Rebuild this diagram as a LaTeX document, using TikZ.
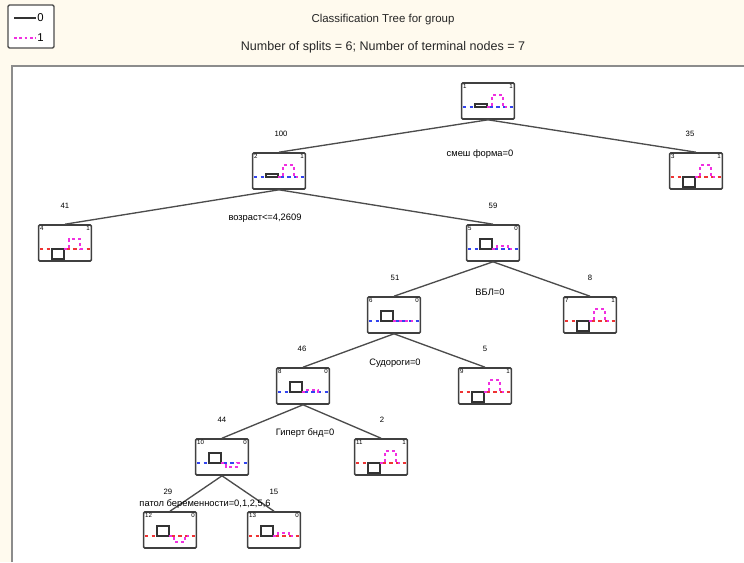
\documentclass[tikz,border=0pt]{standalone}
\usepackage{fontspec}
\setmainfont{Liberation Sans}
\usetikzlibrary{calc}
\definecolor{panelbg}{HTML}{FFFAEE}
\definecolor{splitblue}{HTML}{3344EE}
\definecolor{splitred}{HTML}{EE3333}
\definecolor{classone}{HTML}{F030E0}
\tikzset{
  tbox/.style={draw=black!75, line width=1.2pt, rounded corners=0.8pt, fill=white,
    minimum width=39.5pt, minimum height=27pt, inner sep=0pt},
  cornerlbl/.style={font=\fontsize{4.6}{5}\selectfont, inner sep=0pt},
  countlbl/.style={font=\fontsize{5.8}{6}\selectfont, inner sep=0pt},
  splitlbl/.style={font=\fontsize{7}{7}\selectfont, inner sep=0pt},
  branch/.style={draw=black!70, line width=1pt}
}
% \treebox{name}(x,y){id}{class}{h0}{h1}{base colour}
\def\treebox#1(#2,#3)#4#5#6#7#8{%
  \node[tbox] (#1) at (#2,#3) {};
  \node[cornerlbl, anchor=north west] (#1id) at ($(#1.north west)+(2,2)$) {#4};
  \node[cornerlbl, anchor=north east] (#1cl) at ($(#1.north east)+(-2,2)$) {#5};
  \begin{scope}[shift={(#1.center)}]
    \draw[#8, line width=0.8pt, dash pattern=on 2.5pt off 2.5pt] (-25,6) -- (25,6);
    \draw[black!80, line width=0.8pt, fill=white] (-13,6) rectangle (-1,{6-#6});
    \draw[classone, line width=0.8pt, dash pattern=on 2.5pt off 2pt]
      (-1,6) -- (4,6) -- (4,{6-#7}) -- (15,{6-#7}) -- (15,6) -- (19,6);
  \end{scope}
}

\begin{document}
\begin{tikzpicture}[x=0.75pt, y=-0.75pt]
  %%%%% START %%%%%

  \useasboundingbox (0,0) rectangle (744,562);
  \fill[panelbg] (0,0) rectangle (744,562);
  \fill[white] (12,66) rectangle (744,562);
  \draw[black!45, line width=1.8pt] (12,562) -- (12,66) -- (744,66);

  % legend and title
  \draw[black!70, line width=1pt, rounded corners=1pt, fill=white] (8,5) rectangle (54,48);
  \coordinate (lg0a) at (14,18);
  \coordinate (lg0b) at (36,18);
  \coordinate (lg1a) at (14,38);
  \coordinate (lg1b) at (36,38);
  \draw[black!80, line width=0.9pt] (lg0a) -- (lg0b);
  \draw[classone, line width=0.9pt, dash pattern=on 2pt off 2pt] (lg1a) -- (lg1b);
  \node[font=\fontsize{8.5}{9}\selectfont, anchor=west, inner sep=0pt] (lgzero) at (37,18) {0};
  \node[font=\fontsize{8.5}{9}\selectfont, anchor=west, inner sep=0pt] (lgone) at (37,38) {1};
  \node[font=\fontsize{8.6}{9}\selectfont, text=black!85] (title) at (383,20) {Classification Tree for group};
  \node[font=\fontsize{9.4}{10}\selectfont, text=black!85] (subtitle) at (383,47) {Number of splits = 6; Number of terminal nodes = 7};

  % tree nodes
  \treebox{n1}(488,101){1}{1}{3}{12}{splitblue}
  \treebox{n2}(279,171){2}{1}{3}{12}{splitblue}
  \treebox{n3}(696,171){3}{1}{-10}{12}{splitred}
  \treebox{n4}(65,243){4}{1}{-10}{10}{splitred}
  \treebox{n5}(493,243){5}{0}{10}{3}{splitblue}
  \treebox{n6}(394,315){6}{0}{10}{0}{splitblue}
  \treebox{n7}(590,315){7}{1}{-10}{12}{splitred}
  \treebox{n8}(303,386){8}{0}{10}{2}{splitblue}
  \treebox{n9}(485,386){9}{1}{-10}{12}{splitred}
  \treebox{n10}(222,457){10}{0}{10}{-4}{splitblue}
  \treebox{n11}(381,457){11}{1}{-10}{12}{splitred}
  \treebox{n12}(170,530){12}{0}{10}{-6}{splitred}
  \treebox{n13}(274,530){13}{0}{10}{3}{splitred}

  % branches
  \draw[branch] (n1.south) -- (n2.north);
  \draw[branch] (n1.south) -- (n3.north);
  \draw[branch] (n2.south) -- (n4.north);
  \draw[branch] (n2.south) -- (n5.north);
  \draw[branch] (n5.south) -- (n6.north);
  \draw[branch] (n5.south) -- (n7.north);
  \draw[branch] (n6.south) -- (n8.north);
  \draw[branch] (n6.south) -- (n9.north);
  \draw[branch] (n8.south) -- (n10.north);
  \draw[branch] (n8.south) -- (n11.north);
  \draw[branch] (n10.south) -- (n12.north);
  \draw[branch] (n10.south) -- (n13.north);

  % counts above the nodes
  \node[countlbl] (c2) at ($(n2.north)+(2,-18)$) {100};
  \node[countlbl] (c3) at ($(n3.north)+(-6,-18)$) {35};
  \node[countlbl] (c4) at ($(n4.north)+(0,-18)$) {41};
  \node[countlbl] (c5) at ($(n5.north)+(0,-18)$) {59};
  \node[countlbl] (c6) at ($(n6.north)+(1,-18)$) {51};
  \node[countlbl] (c7) at ($(n7.north)+(0,-18)$) {8};
  \node[countlbl] (c8) at ($(n8.north)+(-1,-18)$) {46};
  \node[countlbl] (c9) at ($(n9.north)+(0,-18)$) {5};
  \node[countlbl] (c10) at ($(n10.north)+(0,-18)$) {44};
  \node[countlbl] (c11) at ($(n11.north)+(1,-18)$) {2};
  \node[countlbl] (c12) at ($(n12.north)+(-2,-19)$) {29};
  \node[countlbl] (c13) at ($(n13.north)+(0,-19)$) {15};

  % split rules
  \node[splitlbl] (s1) at ($(n1.south)+(-8,34)$) {смеш форма=0};
  \node[splitlbl] (s2) at ($(n2.south)+(-14,28)$) {возраст<=4,2609};
  \node[splitlbl] (s5) at ($(n5.south)+(-3,30)$) {ВБЛ=0};
  \node[splitlbl] (s6) at ($(n6.south)+(1,29)$) {Судороги=0};
  \node[splitlbl] (s8) at ($(n8.south)+(2,28)$) {Гиперт бнд=0};
  \node[splitlbl] (s10) at ($(n10.south)+(-17,28)$) {патол беременности=0,1,2,5,6};

  %%%%% END %%%%%
\end{tikzpicture}
\end{document}
